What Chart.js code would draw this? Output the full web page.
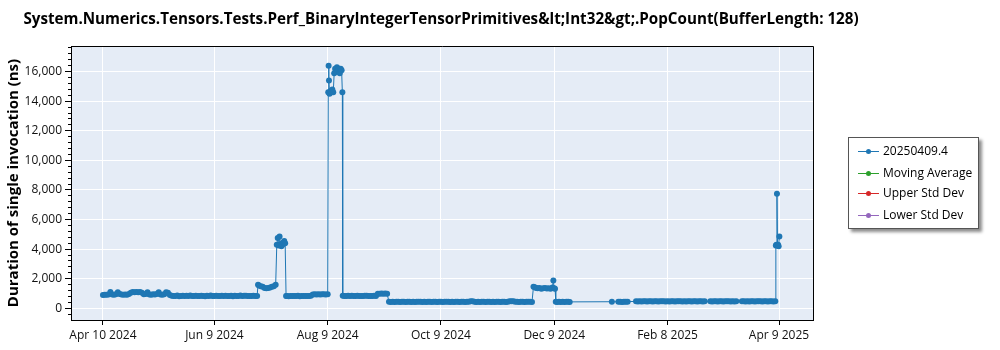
<!DOCTYPE html>
<html>
<head>
<meta charset="utf-8">
<script src="https://cdn.jsdelivr.net/npm/chart.js@4.4.1/dist/chart.umd.min.js"></script>
<style>
  html, body { margin: 0; padding: 0; background: #fff; }
  #wrap { position: relative; width: 1000px; height: 350px; font-family: "Open Sans", "Noto Sans", sans-serif; }
  #title { position: absolute; left: 441px; top: 7px; transform: translateX(-50%); white-space: nowrap;
           font-size: 15.2px; font-weight: bold; color: #000; line-height: 22px; }
  #legend { position: absolute; left: 848px; top: 137px; width: 131px; height: 92px; box-sizing: border-box;
            border: 1px solid #555; background: #fff; box-shadow: 3px 3px 3px rgba(0,0,0,0.45); }
  .item { position: absolute; left: 0; height: 16px; width: 130px; font-size: 12px; color: #000; }
  .item .ln { position: absolute; left: 9px; top: 7px; width: 21px; height: 1px; }
  .item .dt { position: absolute; left: 17px; top: 5px; width: 5px; height: 5px; border-radius: 50%; }
  .item .tx { position: absolute; left: 34px; top: -1px; white-space: nowrap; line-height: 16px; }
</style>
</head>
<body>
<div id="wrap">
  <canvas id="c" width="1000" height="350"></canvas>
  <div id="title"></div>
  <div id="legend"></div>
</div>
<script>
// ---- data (days since Apr 10 2024, duration in ns) ----
const chartTitle = "System.Numerics.Tensors.Tests.Perf_BinaryIntegerTensorPrimitives&lt;Int32&gt;.PopCount(BufferLength: 128)";
const yTitle = "Duration of single invocation (ns)";
const seriesNames = ["20250409.4", "Moving Average", "Upper Std Dev", "Lower Std Dev"];
const seriesColors = ["#1f77b4", "#2ca02c", "#d62728", "#9467bd"];

const tickDays = [0, 60, 121, 182, 243, 304, 364];
const tickLabels = ["Apr 10 2024", "Jun 9 2024", "Aug 9 2024", "Oct 9 2024", "Dec 9 2024", "Feb 8 2025", "Apr 9 2025"];
const yTickValues = [0, 2000, 4000, 6000, 8000, 10000, 12000, 14000, 16000];

const runDays = [
  0,1,2,3,4,5,6,7,8,9,10,11,12,13,14,15,16,17,18,19,20,21,22,23,24,25,26,27,28,29,30,31,32,33,34,35,36,
  37,38,39,40,41,42,43,44,45,46,47,48,49,50,51,52,53,54,55,56,57,58,59,60,61,62,63,64,65,66,67,68,69,70,71,72,73,74,75,76,77,78,79,80,81,82,83,
  83.5,84,85,86,87,88,89,90,91,92,93,
  93.6,94.1,94.6,95.1,95.6,96.1,96.6,97.1,97.6,98.1,
  98.6,99,100,101,102,103,104,105,106,107,108,109,110,111,112,
  113,114,115,116,117,118,119,120,121,
  121.3,121.5,121.7,122,122.5,123,123.5,124,124.5,125,125.5,126,126.5,127,127.5,128,128.5,128.9,
  129.1,130,131,132,133,134,135,136,137,138,139,140,141,142,143,144,145,146,147,
  148,149,150,151,152,153,
  154,155,156,157,158,159,160,161,162,163,164,165,166,167,168,169,170,171,172,173,174,175,176,177,178,179,180,181,182,183,184,185,186,187,188,189,190,191,192,193,194,195,196,197,198,199,200,201,202,203,204,205,206,207,208,209,210,211,212,213,214,215,216,217,218,219,220,221,222,223,224,225,226,227,228,229,230,231,
  231.8,232.5,233.3,234,235,236,237,238,239,240,241,242,242.5,243,243.4,
  243.8,244.5,245.5,246.5,247.5,248.5,249.5,250.5,251.3,
  274,
  277.5,278.5,279.5,280.5,281.5,282.5,
  287,288,289,290,291,292,293,294,295,296,297,298,299,300,301,302,303,304,305,306,307,308,309,310,311,312,313,314,315,316,317,318,319,320,321,322,323,324,
  327,328,329,330,331,332,333,334,335,336,337,338,339,340,341,
  344,345,346,347,348,349,350,351,352,353,354,355,356,357,358,359,360,361,362,
  362.3,362.6,362.9,363.2,363.5,363.8,364.2
];

const durationNs = [
  900,920,910,940,1100,930,920,950,1080,960,930,910,940,920,960,1050,1100,1080,1110,1090,1100,1060,950,970,1090,940,920,950,930,960,1090,940,920,950,1080,1060,900,
  850,830,840,860,820,840,850,830,845,835,860,825,840,850,830,840,855,835,820,845,840,860,830,840,850,835,825,845,840,855,830,840,850,820,845,835,840,860,830,845,850,835,840,825,850,840,830,
  1600,1550,1500,1450,1380,1350,1370,1400,1450,1500,1600,
  4300,4750,4250,4850,4350,4200,4300,4450,4550,4400,
  840,830,820,840,825,835,830,845,820,830,840,825,835,830,845,
  930,945,940,950,935,945,955,940,950,
  14600,16400,15400,14500,14700,14600,14800,14600,15900,16200,16000,16300,16100,16200,15900,16200,16100,14600,
  850,840,830,850,835,845,830,840,855,835,840,830,845,850,835,840,830,845,840,
  980,990,1000,985,995,980,
  440,430,445,435,450,440,430,445,440,435,
  450,440,430,445,435,440,450,445,430,440,
  435,445,440,430,450,440,435,445,440,430,
  445,440,450,435,440,430,445,440,435,450,
  440,430,445,440,470,480,440,435,445,430,
  440,450,435,440,445,430,440,435,450,440,
  430,445,440,435,440,470,480,475,445,440,
  430,445,440,435,450,440,445,430,
  1450,1420,1380,1350,1370,1330,1350,1380,1340,1360,1330,1400,1880,1350,1320,
  440,430,445,435,440,430,445,440,435,
  445,
  440,450,435,445,440,450,
  470,460,475,465,480,470,455,475,470,465,480,470,460,475,470,485,465,470,460,475,470,465,480,470,475,460,470,465,480,470,455,475,470,465,470,480,460,475,
  470,465,480,470,460,475,470,465,480,470,475,460,470,465,475,
  470,480,465,470,460,475,470,465,480,470,475,460,470,485,465,470,475,460,480,
  4250,4300,7750,4250,4300,4200,4850
];

if (runDays.length !== durationNs.length) {
  throw new Error("length mismatch " + runDays.length + " vs " + durationNs.length);
}

const FONT = '"Open Sans", "Noto Sans", sans-serif';
const Y_MIN = -790, Y_MAX = 17735, MINOR_STEP = 400;

document.getElementById('title').textContent = chartTitle;

const plotFrame = {
  id: 'plotFrame',
  beforeDraw(c) {
    const { ctx, chartArea: a } = c;
    ctx.save();
    ctx.fillStyle = '#E5ECF6';
    ctx.fillRect(a.left, a.top, a.right - a.left, a.bottom - a.top);
    ctx.restore();
  },
  afterDraw(c) {
    const { ctx, chartArea: a } = c;
    ctx.save();
    ctx.strokeStyle = '#000';
    ctx.lineWidth = 1;
    ctx.beginPath();
    ctx.moveTo(Math.round(a.left), Math.round(a.top) + 0.5);
    ctx.lineTo(Math.round(a.right) + 0.5, Math.round(a.top) + 0.5);
    ctx.lineTo(Math.round(a.right) + 0.5, Math.round(a.bottom));
    ctx.stroke();
    ctx.restore();
  }
};

const datasets = seriesNames.map((name, k) => ({
  label: name,
  data: k === 0 ? runDays.map((d, i) => ({ x: d, y: durationNs[i] })) : [],
  borderColor: seriesColors[k],
  backgroundColor: seriesColors[k],
  borderWidth: 1,
  pointRadius: 3,
  pointBorderWidth: 0,
  pointHoverRadius: 3,
  tension: 0
}));

const chart = new Chart(document.getElementById('c'), {
  type: 'line',
  data: { datasets },
  plugins: [plotFrame],
  options: {
    responsive: false,
    animation: false,
    events: [],
    layout: { padding: { left: 0, right: 187, top: 46, bottom: 0 } },
    plugins: {
      legend: { display: false },
      tooltip: { enabled: false },
      title: { display: false }
    },
    scales: {
      x: {
        type: 'linear', min: -17.2, max: 382.3,
        afterBuildTicks: s => { s.ticks = tickDays.map(v => ({ value: v })); },
        afterFit: s => { s.height = 30; },
        ticks: {
          autoSkip: false, maxRotation: 0, color: '#111', padding: 3,
          font: { family: FONT, size: 12 },
          callback: (v, i) => tickLabels[i]
        },
        grid: { color: '#fff', tickColor: '#000', tickLength: 5, lineWidth: 1 },
        border: { color: '#000', width: 1 }
      },
      y: {
        type: 'linear', position: 'left', min: Y_MIN, max: Y_MAX, weight: 1,
        afterBuildTicks: s => { s.ticks = yTickValues.map(v => ({ value: v })); },
        afterFit: s => { s.width = 71; },
        ticks: {
          autoSkip: false, color: '#111', padding: 3,
          font: { family: FONT, size: 12 },
          callback: v => Number(v).toLocaleString('en-US')
        },
        grid: { color: '#fff', tickColor: '#000', tickLength: 6 },
        border: { color: '#000', width: 1 },
        title: {
          display: true, text: yTitle, color: '#000',
          font: { family: FONT, size: 15, weight: 'bold' },
          padding: { top: 5, bottom: 0 }
        }
      },
      yMinor: {
        type: 'linear', position: 'left', min: Y_MIN, max: Y_MAX, weight: 0,
        afterBuildTicks: s => {
          const t = [];
          for (let v = Math.ceil(Y_MIN / MINOR_STEP) * MINOR_STEP; v <= Y_MAX; v += MINOR_STEP) t.push({ value: v });
          s.ticks = t;
        },
        afterFit: s => { s.width = 0; },
        ticks: { display: false },
        grid: { drawOnChartArea: false, tickColor: '#000', tickLength: 3 },
        border: { display: false }
      }
    }
  }
});

// HTML legend built from the chart's datasets
const legend = document.getElementById('legend');
const itemTops = [6, 27.5, 48, 69.5];
chart.data.datasets.forEach((ds, k) => {
  const it = document.createElement('div');
  it.className = 'item';
  it.style.top = itemTops[k] + 'px';
  const ln = document.createElement('div'); ln.className = 'ln'; ln.style.background = ds.borderColor;
  const dt = document.createElement('div'); dt.className = 'dt'; dt.style.background = ds.borderColor;
  const tx = document.createElement('div'); tx.className = 'tx'; tx.textContent = ds.label;
  it.appendChild(ln); it.appendChild(dt); it.appendChild(tx);
  legend.appendChild(it);
});
</script>
</body>
</html>
